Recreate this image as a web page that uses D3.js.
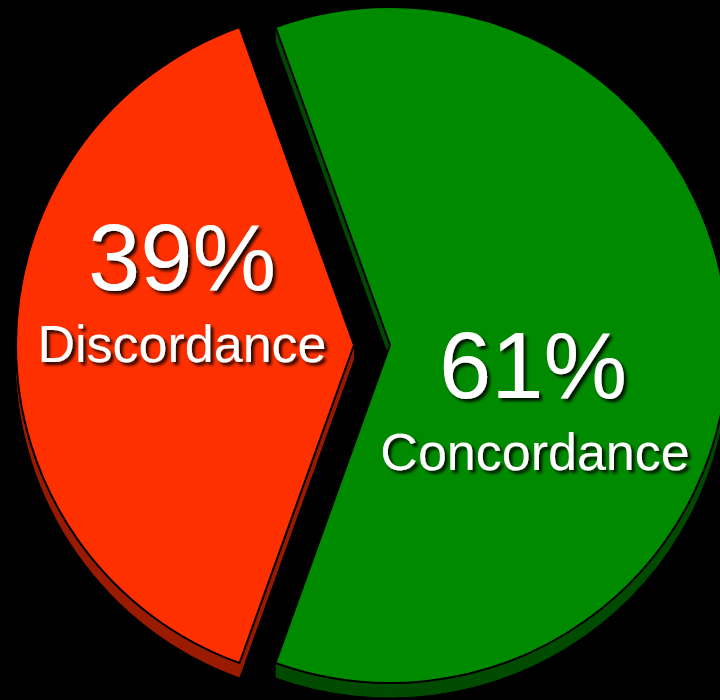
<!DOCTYPE html>
<html>
<head>
<meta charset="utf-8">
<script src="https://cdn.jsdelivr.net/npm/d3@7/dist/d3.min.js"></script>
<style>
  html, body { margin: 0; padding: 0; background: #000; }
  svg { display: block; }
</style>
</head>
<body>
<svg id="chart" width="720" height="700"></svg>
<script>
// Share of cases by agreement outcome
const categories = ["Discordance", "Concordance"];
const values = [39, 61];
const valueLabels = ["39%", "61%"];
const topColors = ["#ff3000", "#008a00"];
const sideColors = ["#9a1c00", "#004c00"];

const W = 720, H = 700;
const cx = 372, cy = 345;
const radius = 338;
const depth = 15;         // extrusion thickness
const explode = 18;       // slice pull-out distance
// label nudges relative to each slice's mid-radius point
const labelNudge = [[-3, -55], [-26, 53]];

const svg = d3.select("#chart").attr("viewBox", `0 0 ${W} ${H}`);

const defs = svg.append("defs");
const shadow = defs.append("filter").attr("id", "txtShadow")
  .attr("x", "-10%").attr("y", "-10%").attr("width", "130%").attr("height", "140%");
shadow.append("feDropShadow")
  .attr("dx", 3).attr("dy", 3).attr("stdDeviation", 1.8)
  .attr("flood-color", "#000").attr("flood-opacity", 0.85);

const redSpan = 2 * Math.PI * values[0] / d3.sum(values);
const start = 1.5 * Math.PI - redSpan / 2;

const pie = d3.pie().sort(null).value(d => d)
  .startAngle(start).endAngle(start + 2 * Math.PI);
const arcs = pie(values);

const arc = d3.arc().innerRadius(0).outerRadius(radius);

function offsetOf(a) {
  const mid = (a.startAngle + a.endAngle) / 2;
  return [Math.sin(mid) * explode, -Math.cos(mid) * explode];
}

// side (extruded) faces
const sides = svg.append("g");
arcs.forEach((a, i) => {
  const [ox, oy] = offsetOf(a);
  for (let k = depth; k >= 1; k--) {
    sides.append("path")
      .attr("d", arc(a))
      .attr("transform", `translate(${cx + ox},${cy + oy + k})`)
      .attr("fill", sideColors[i])
      .attr("stroke", k === depth ? "#000" : "none")
      .attr("stroke-width", 1);
  }
});

// top faces
const tops = svg.append("g");
arcs.forEach((a, i) => {
  const [ox, oy] = offsetOf(a);
  tops.append("path")
    .attr("d", arc(a))
    .attr("transform", `translate(${cx + ox},${cy + oy})`)
    .attr("fill", topColors[i])
    .attr("stroke", "#000")
    .attr("stroke-width", 2)
    .attr("stroke-linejoin", "round");
});

// labels
const labelArc = d3.arc().innerRadius(radius * 0.5).outerRadius(radius * 0.5);
const labels = svg.append("g")
  .attr("font-family", "Arial, 'Liberation Sans', Helvetica, sans-serif")
  .attr("fill", "#fff")
  .attr("text-anchor", "middle")
  .attr("filter", "url(#txtShadow)");

arcs.forEach((a, i) => {
  const [ox, oy] = offsetOf(a);
  const c = labelArc.centroid(a);
  const x = cx + c[0] + ox + labelNudge[i][0];
  const y = cy + c[1] + oy + labelNudge[i][1];
  labels.append("text")
    .attr("x", x).attr("y", y)
    .attr("font-size", 94)
    .text(valueLabels[i]);
  labels.append("text")
    .attr("x", x + (i === 1 ? 2 : 0)).attr("y", y + 72)
    .attr("font-size", 52)
    .text(categories[i]);
});
</script>
</body>
</html>
